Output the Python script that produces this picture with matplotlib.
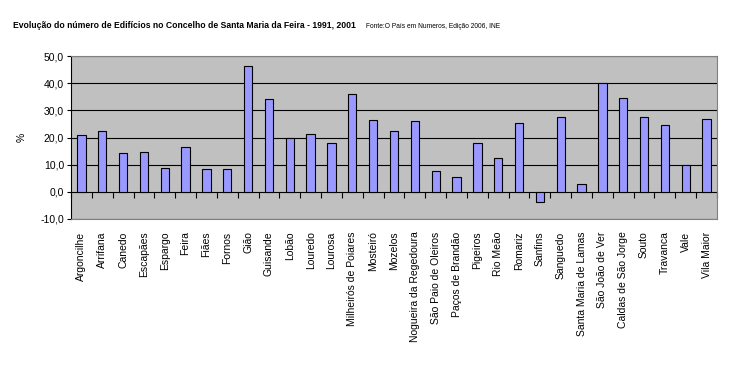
import numpy as np
import matplotlib
matplotlib.use("Agg")
import matplotlib.pyplot as plt
from matplotlib.ticker import MultipleLocator, FuncFormatter

plt.rcParams['font.family'] = ['Liberation Sans', 'DejaVu Sans']

# Freguesias and growth in number of buildings (%), 1991-2001
freguesias = ['Argoncilhe', 'Arrifana', 'Canedo', 'Escapães', 'Espargo', 'Feira',
              'Fiães', 'Fornos', 'Gião', 'Guisande', 'Lobão', 'Louredo', 'Lourosa',
              'Milheirós de Poiares', 'Mosteiró', 'Mozelos', 'Nogueira da Regedoura',
              'São Paio de Oleiros', 'Paços de Brandão', 'Pigeiros', 'Rio Meão',
              'Romariz', 'Sanfins', 'Sanguedo', 'Santa Maria de Lamas',
              'São João de Ver', 'Caldas de São Jorge', 'Souto', 'Travanca',
              'Vale', 'Vila Maior']
variacao = [21.0, 22.5, 14.4, 14.7, 8.8, 16.6, 8.5, 8.5, 46.4, 34.2, 19.9, 21.3,
            18.0, 36.1, 26.5, 22.5, 26.1, 7.7, 5.6, 18.0, 12.5, 25.4, -3.7, 27.6,
            2.9, 39.9, 34.6, 27.6, 24.7, 9.9, 26.9]

titulo = 'Evolução do número de Edifícios no Concelho de Santa Maria da Feira - 1991, 2001'
fonte = 'Fonte:O País em Numeros, Edição 2006, INE'

fig = plt.figure(figsize=(7.3, 3.69), dpi=100)
ax = fig.add_axes([71/730, 1 - 219/369, (717 - 71)/730, (219 - 56)/369])

x = np.arange(len(freguesias))
ax.bar(x, variacao, width=0.4, color='#9999FF', edgecolor='black', linewidth=0.8, zorder=3)

ax.set_facecolor('#C0C0C0')
ax.set_xlim(-0.5, len(freguesias) - 0.5)
ax.set_ylim(-10, 50)
ax.yaxis.set_major_locator(MultipleLocator(10))
ax.yaxis.set_major_formatter(FuncFormatter(lambda v, p: f'{v:.1f}'.replace('.', ',')))
ax.grid(axis='y', color='black', linewidth=0.8, zorder=1)
ax.tick_params(axis='y', length=3, width=0.8, labelsize=7.5, pad=2, color='black')

for s in ['top', 'right', 'bottom']:
    ax.spines[s].set_color('#808080')
ax.spines['left'].set_color('black')

ax.set_xticks(x, freguesias, rotation=90, fontsize=7.5)
ax.tick_params(axis='x', length=0, pad=9)

# category axis crosses at zero with tick marks between categories
sec = ax.secondary_xaxis(10/60)
sec.xaxis.set_ticks_position('bottom')
sec.set_xticks(np.arange(len(freguesias) + 1) - 0.5, labels=[''] * (len(freguesias) + 1))
sec.tick_params(axis='x', direction='out', length=4, width=0.8, color='black')
sec.spines['bottom'].set_visible(False)
sec.spines['top'].set_visible(False)

ax.set_ylabel('%', fontsize=7.5, labelpad=10)

fig.text(13/730, 1 - 26/369, titulo, fontsize=6.2, fontweight='bold', va='center', ha='left')
fig.text(500/730, 1 - 26/369, fonte, fontsize=4.8, va='center', ha='right')

fig.savefig('out.png', dpi=100)
